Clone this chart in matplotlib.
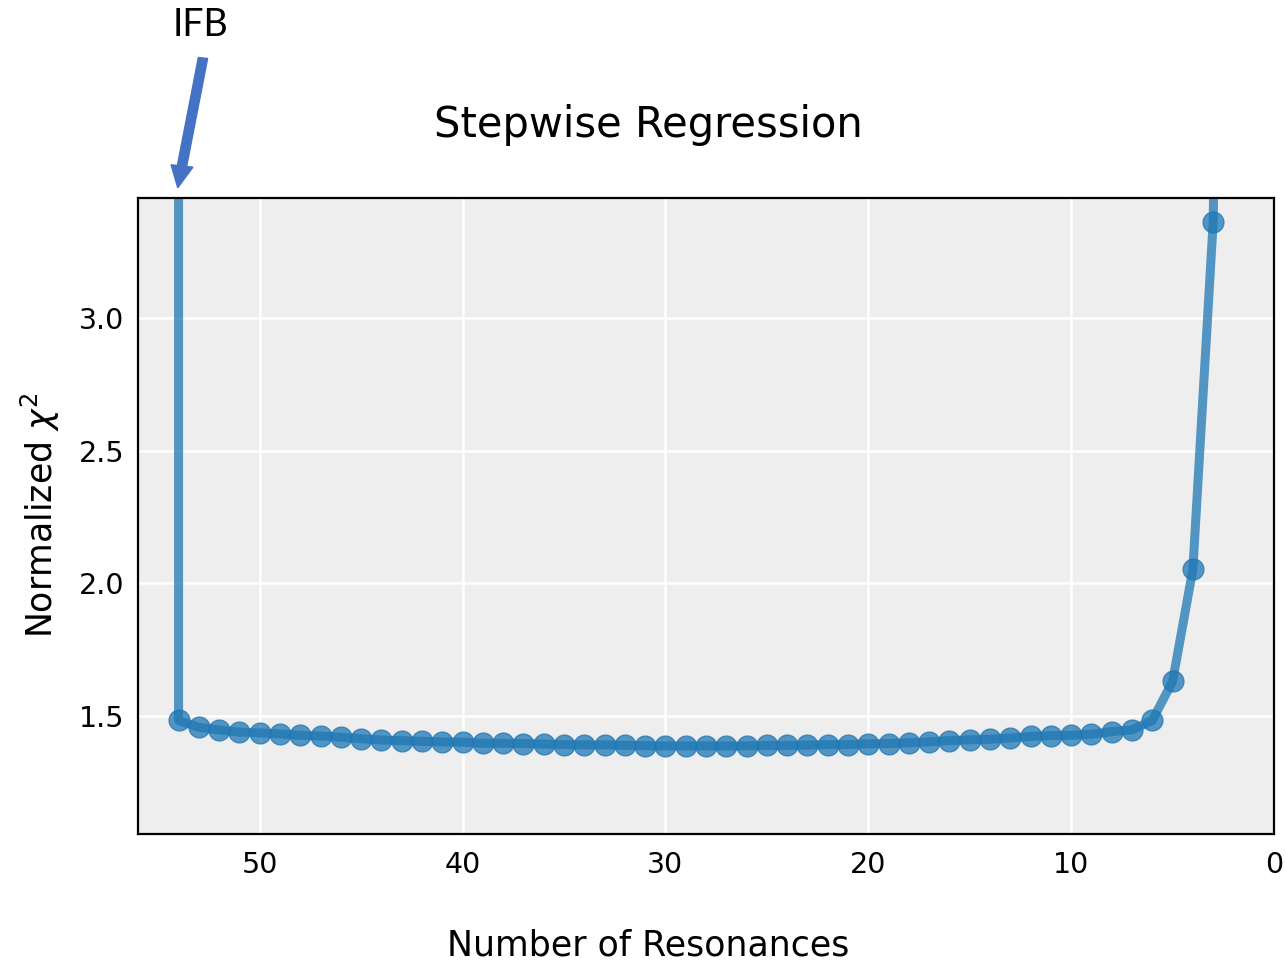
import numpy as np
import matplotlib
matplotlib.use("Agg")
import matplotlib.pyplot as plt

# number of resonances kept at each step (first entry is the IFB start, off the top)
n_res = [54, 54, 53, 52, 51, 50, 49, 48, 47, 46, 45, 44, 43, 42, 41, 40,
         39, 38, 37, 36, 35, 34, 33, 32, 31, 30, 29, 28, 27, 26, 25, 24,
         23, 22, 21, 20, 19, 18, 17, 16, 15, 14, 13, 12, 11, 10, 9, 8,
         7, 6, 5, 4, 3, 2]
chi2 = [12.0, 1.483, 1.457, 1.447, 1.439, 1.436, 1.432, 1.427, 1.424, 1.420,
        1.414, 1.409, 1.407, 1.404, 1.402, 1.401, 1.397, 1.397, 1.396, 1.394,
        1.392, 1.391, 1.391, 1.389, 1.388, 1.387, 1.387, 1.387, 1.387, 1.387,
        1.389, 1.389, 1.390, 1.392, 1.392, 1.395, 1.396, 1.399, 1.402, 1.407,
        1.410, 1.412, 1.417, 1.423, 1.426, 1.427, 1.431, 1.441, 1.447, 1.483,
        1.630, 2.052, 3.360, 8.0]

x_ticks = [50, 40, 30, 20, 10, 0]
y_ticks = [1.5, 2.0, 2.5, 3.0]

W, H = 1286, 965
fig = plt.figure(figsize=(W / 100, H / 100), dpi=100)
ax = fig.add_axes([138 / W, 1 - 834 / H, (1274 - 138) / W, (834 - 198) / H])

ax.set_facecolor('#eeeeee')
ax.grid(color='white', lw=1.8)
ax.set_axisbelow(True)
for s in ax.spines.values():
    s.set_color('black')
    s.set_linewidth(1.6)

ax.plot(n_res, chi2, '-o', color='#1f77b4', alpha=0.75, lw=6.5, ms=15)

ax.set_xlim(56, 0)
ax.set_ylim(1.055, 3.452)
ax.set_xticks(x_ticks)
ax.set_yticks(y_ticks)
ax.set_yticklabels([f"{v:.1f}" for v in y_ticks])
ax.tick_params(axis='both', length=0, labelsize=20.5)
ax.tick_params(axis='x', pad=12)
ax.tick_params(axis='y', pad=10)

fig.text(648 / W, 1 - 125 / H, 'Stepwise Regression', fontsize=30,
         ha='center', va='center')
fig.text(648 / W, 1 - 946 / H, 'Number of Resonances', fontsize=25,
         ha='center', va='center')
fig.text(40 / W, 1 - 515 / H, r'Normalized $\chi^2$', fontsize=25,
         rotation=90, ha='center', va='center')

# IFB marker added on top of the plot
fig.text(200 / W, 1 - 25 / H, 'IFB', fontsize=27, ha='center', va='center',
         family=['Lato', 'DejaVu Sans'])
fig.patches.append(matplotlib.patches.FancyArrow(
    203 / W, 1 - 58 / H, (182 - 203) / W, -(188 - 58 - 22) / H,
    width=7 / H, head_width=22 / W, head_length=22 / H,
    length_includes_head=False, color='#4472c4', transform=fig.transFigure))

fig.savefig('out.png', dpi=100)
